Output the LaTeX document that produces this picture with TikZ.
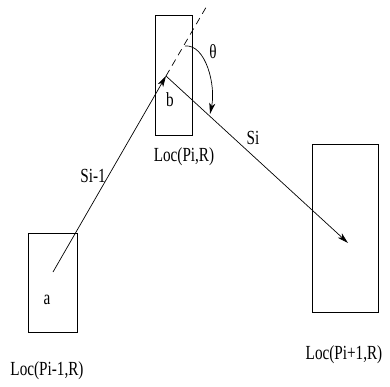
\documentclass[tikz,border=0pt]{standalone}
\usepackage{fontspec}
\setmainfont{Liberation Serif}
\usetikzlibrary{arrows.meta}
\newcommand{\lbl}[1]{\scalebox{0.76}[1]{\fontsize{20pt}{20pt}\selectfont #1}}
\begin{document}
\begin{tikzpicture}[x=1pt,y=-1pt,
  box/.style={draw,line width=0.8pt},
  conn/.style={line width=0.7pt,-{Stealth[length=11pt,width=6pt,inset=3pt]}},
  txt/.style={inner sep=0pt,anchor=center}]
\useasboundingbox (0,0) rectangle (390,387);
% boxes
\node[box,minimum width=49pt,minimum height=99pt,inner sep=0pt] (boxa) at (52.5,282.5) {};
\node[box,minimum width=37pt,minimum height=120pt,inner sep=0pt] (boxb) at (173.5,75) {};
\node[box,minimum width=66pt,minimum height=168pt,inner sep=0pt] (boxc) at (345,228) {};
% points
\coordinate (pa) at (53,272);
\coordinate (pb) at (166,76);
\coordinate (pc) at (348,243);
\coordinate (ext) at (208,4);
\coordinate (ts) at (185,46);
\coordinate (te) at (210,114);
% connectors
\draw[conn] (pa) -- (pb);
\draw[line width=0.7pt,dash pattern=on 7pt off 5pt] (pb) -- (ext);
\draw[conn] (pb) -- (pc);
\draw[conn] (ts) .. controls (206,44) and (216,86) .. (te);
% labels
\node[txt] (la) at (47,300) {\lbl{a}};
\node[txt] (lb) at (170,100) {\lbl{b}};
\node[txt] (lth) at (213,52) {\lbl{θ}};
\node[txt] (lsi1) at (93,176) {\lbl{Si-1}};
\node[txt] (lsi) at (253,138) {\lbl{Si}};
\node[txt] (lpi) at (184,157) {\lbl{Loc(Pi,R)}};
\node[txt] (lpim) at (47,371) {\lbl{Loc(Pi-1,R)}};
\node[txt] (lpip) at (344,355) {\lbl{Loc(Pi+1,R)}};
\end{tikzpicture}
\end{document}
